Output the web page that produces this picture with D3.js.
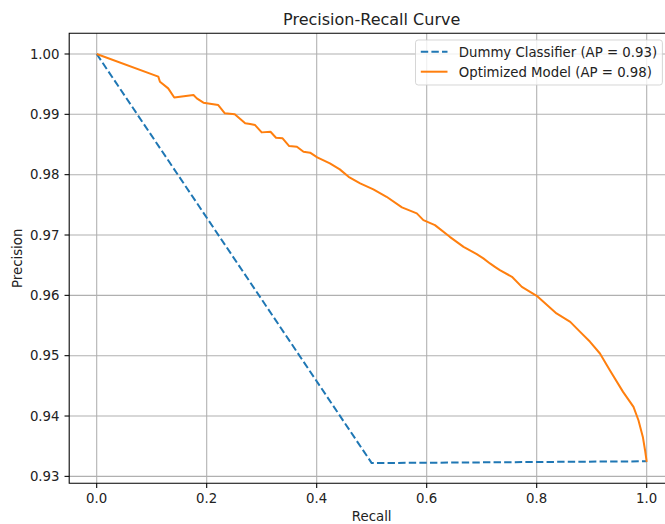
<!DOCTYPE html>
<html>
<head>
<meta charset="utf-8">
<script src="https://cdn.jsdelivr.net/npm/d3@7"></script>
<style>
  body { margin: 0; background: #fff; }
  svg { display: block; font-family: "DejaVu Sans", sans-serif; }
</style>
</head>
<body>
<svg id="chart" width="665" height="524"></svg>
<script>
// data
const dummyRecall = [0, 0.5, 1.0];
const dummyPrecision = [1.0, 0.9322, 0.9325];

const modelRecall = [0, 0.112, 0.115, 0.130, 0.141, 0.176, 0.182, 0.194, 0.221, 0.233, 0.251, 0.270,
  0.279, 0.288, 0.300, 0.316, 0.326, 0.338, 0.350, 0.364, 0.376, 0.388, 0.401, 0.424, 0.442, 0.458,
  0.479, 0.503, 0.527, 0.555, 0.582, 0.594, 0.615, 0.642, 0.667, 0.691, 0.703, 0.715, 0.724, 0.733,
  0.755, 0.773, 0.800, 0.836, 0.861, 0.879, 0.897, 0.915, 0.933, 0.957, 0.976, 0.985, 0.993, 0.997, 1.0];
const modelPrecision = [1.0, 0.99624, 0.9954, 0.9943, 0.9928, 0.9932, 0.99265, 0.99193, 0.99154, 0.99017, 0.9900, 0.98851,
  0.98839, 0.98822, 0.98701, 0.98711, 0.98612, 0.98602, 0.98474, 0.98463, 0.98380, 0.98364, 0.98287, 0.98187, 0.98088, 0.97965,
  0.97855, 0.97756, 0.97634, 0.97458, 0.97358, 0.97247, 0.97164, 0.96970, 0.96804, 0.96683, 0.96612, 0.96529, 0.96473, 0.96418,
  0.96307, 0.96141, 0.95992, 0.95700, 0.95561, 0.95395, 0.95230, 0.95036, 0.94760, 0.94400, 0.94151, 0.93930, 0.93653, 0.93433, 0.93239];

const xTicks = [0, 0.2, 0.4, 0.6, 0.8, 1.0];
const yTicks = [0.93, 0.94, 0.95, 0.96, 0.97, 0.98, 0.99, 1.00];

const series = [
  {name: "Dummy Classifier (AP = 0.93)", color: "#1f77b4", dash: "7.4,3.2", r: dummyRecall, p: dummyPrecision},
  {name: "Optimized Model (AP = 0.98)", color: "#ff7f0e", dash: null, r: modelRecall, p: modelPrecision}
];

const ax = {left: 69.2, right: 674.2, top: 33.3, bottom: 483.3};
const fs = 13.3;

const svg = d3.select("#chart");

const x = d3.scaleLinear().domain([-0.05, 1.05]).range([ax.left, ax.right]);
const y = d3.scaleLinear().domain([0.92885, 1.00343]).range([ax.bottom, ax.top]);

svg.append("defs").append("clipPath").attr("id", "clip")
  .append("rect").attr("x", ax.left).attr("y", ax.top)
  .attr("width", ax.right - ax.left).attr("height", ax.bottom - ax.top);

// grid
const grid = svg.append("g").attr("stroke", "#b0b0b0").attr("stroke-width", 1.07);
grid.selectAll(".gx").data(xTicks).enter().append("line")
  .attr("x1", d => x(d)).attr("x2", d => x(d))
  .attr("y1", ax.top).attr("y2", ax.bottom);
grid.selectAll(".gy").data(yTicks).enter().append("line")
  .attr("x1", ax.left).attr("x2", ax.right)
  .attr("y1", d => y(d)).attr("y2", d => y(d));

// curves
const line = d3.line().x(d => x(d[0])).y(d => y(d[1]));
svg.append("g").attr("clip-path", "url(#clip)")
  .selectAll("path").data(series).enter().append("path")
    .attr("d", s => line(d3.zip(s.r, s.p)))
    .attr("fill", "none")
    .attr("stroke", s => s.color)
    .attr("stroke-width", 2)
    .attr("stroke-dasharray", s => s.dash)
    .attr("stroke-linejoin", "round");

// spines
svg.append("path")
  .attr("d", `M${ax.right},${ax.bottom}H${ax.left}V${ax.top}H${ax.right}`)
  .attr("fill", "none").attr("stroke", "#000").attr("stroke-width", 1.07);

// x axis ticks
const xa = svg.append("g");
xa.selectAll("line").data(xTicks).enter().append("line")
  .attr("x1", d => x(d)).attr("x2", d => x(d))
  .attr("y1", ax.bottom).attr("y2", ax.bottom + 4.67)
  .attr("stroke", "#000").attr("stroke-width", 1.07);
xa.selectAll("text").data(xTicks).enter().append("text")
  .attr("x", d => x(d)).attr("y", 503)
  .attr("text-anchor", "middle").attr("font-size", fs).attr("fill", "#222")
  .text(d => d.toFixed(1));

// y axis ticks
const ya = svg.append("g");
ya.selectAll("line").data(yTicks).enter().append("line")
  .attr("x1", ax.left - 4.67).attr("x2", ax.left)
  .attr("y1", d => y(d)).attr("y2", d => y(d))
  .attr("stroke", "#000").attr("stroke-width", 1.07);
ya.selectAll("text").data(yTicks).enter().append("text")
  .attr("x", 59.5).attr("y", d => y(d) + 4.8)
  .attr("text-anchor", "end").attr("font-size", fs).attr("fill", "#222")
  .text(d => d.toFixed(2));

// labels
svg.append("text").attr("x", (ax.left + ax.right) / 2).attr("y", 25.3)
  .attr("text-anchor", "middle").attr("font-size", 16).attr("fill", "#222")
  .text("Precision-Recall Curve");
svg.append("text").attr("x", (ax.left + ax.right) / 2).attr("y", 521)
  .attr("text-anchor", "middle").attr("font-size", fs).attr("fill", "#222")
  .text("Recall");
svg.append("text")
  .attr("transform", `translate(22,${(ax.top + ax.bottom) / 2}) rotate(-90)`)
  .attr("text-anchor", "middle").attr("font-size", fs).attr("fill", "#222")
  .text("Precision");

// legend
const lg = svg.append("g");
const box = lg.append("rect")
  .attr("x", 415.5).attr("y", 40).attr("height", 45).attr("rx", 2.7)
  .attr("fill", "#fff").attr("fill-opacity", 0.8)
  .attr("stroke", "#ccc").attr("stroke-opacity", 0.8).attr("stroke-width", 1);
let maxW = 0;
series.forEach((s, i) => {
  const cy = 51.7 + i * 20;
  lg.append("line")
    .attr("x1", 420.8).attr("x2", 447.5).attr("y1", cy).attr("y2", cy)
    .attr("stroke", s.color).attr("stroke-width", 2)
    .attr("stroke-dasharray", s.dash);
  const t = lg.append("text")
    .attr("x", 458.8).attr("y", cy + 4.8)
    .attr("font-size", fs).attr("fill", "#222")
    .text(s.name);
  maxW = Math.max(maxW, t.node().getComputedTextLength());
});
box.attr("width", 458.8 + maxW + 5.3 - 415.5);
</script>
</body>
</html>
